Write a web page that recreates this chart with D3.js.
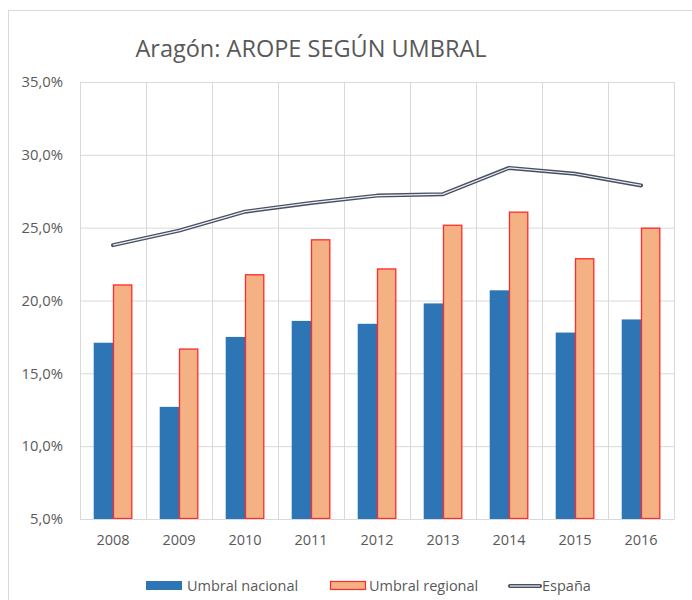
<!DOCTYPE html>
<html>
<head>
<meta charset="utf-8">
<script src="https://cdn.jsdelivr.net/npm/d3@7"></script>
<style>
  body { margin: 0; background: #fff; }
  text { font-family: "Open Sans", "Noto Sans", sans-serif; }
</style>
</head>
<body>
<svg id="chart"></svg>
<script>
const years = ["2008", "2009", "2010", "2011", "2012", "2013", "2014", "2015", "2016"];
const umbralNacional = [17.1, 12.7, 17.5, 18.6, 18.4, 19.8, 20.7, 17.8, 18.7];
const umbralRegional = [21.1, 16.7, 21.8, 24.2, 22.2, 25.2, 26.1, 22.9, 25.0];
const espana = [23.8, 24.8, 26.1, 26.7, 27.2, 27.3, 29.1, 28.7, 27.9];
const yTicks = [5, 10, 15, 20, 25, 30, 35];

const width = 692, height = 600;
const plotLeft = 80, plotRight = 674, plotTop = 82, plotBottom = 519;

const svg = d3.select("#chart")
	.attr("width", width)
	.attr("height", height);

// outer frame
svg.append("rect")
	.attr("x", 8.5).attr("y", 10.5)
	.attr("width", 700).attr("height", 600)
	.attr("fill", "#fff")
	.attr("stroke", "#d9d9d9");

const x = d3.scaleBand(years, [plotLeft, plotRight]).paddingInner(0).paddingOuter(0);
const xz = d3.scaleBand([0, 1], [0, x.bandwidth()]).paddingOuter(0.71).paddingInner(0);
const y = d3.scaleLinear([5, 35], [plotBottom, plotTop]);

// horizontal grid + y labels
const yAxis = d3.axisLeft(y).tickValues(yTicks).tickSize(0).tickPadding(17)
	.tickFormat(d => d3.format(".1f")(d).replace(".", ",") + "%");
svg.append("g")
	.attr("transform", `translate(${plotLeft}, 0)`)
	.call(yAxis)
	.call(g => g.select(".domain").remove())
	.call(g => g.selectAll(".tick line").clone()
		.attr("x2", plotRight - plotLeft)
		.attr("stroke", "#d9d9d9"))
	.call(g => g.selectAll(".tick text")
		.attr("fill", "#595959")
		.attr("font-size", 14.8));

// vertical grid
svg.append("g")
	.selectAll("line")
	.data(years.concat(["end"]))
	.join("line")
	.attr("x1", (d, i) => i < years.length ? x(d) + 0.5 : plotRight + 0.5)
	.attr("x2", (d, i) => i < years.length ? x(d) + 0.5 : plotRight + 0.5)
	.attr("y1", plotTop)
	.attr("y2", plotBottom)
	.attr("stroke", "#d9d9d9");

// bars
svg.append("g")
	.selectAll("rect")
	.data(years)
	.join("rect")
	.attr("x", (d) => x(d) + xz(0))
	.attr("y", (d, i) => y(umbralNacional[i]))
	.attr("width", xz.bandwidth())
	.attr("height", (d, i) => y(5) - y(umbralNacional[i]))
	.attr("fill", "#2e75b6");

svg.append("g")
	.selectAll("rect")
	.data(years)
	.join("rect")
	.attr("x", (d) => x(d) + xz(1) + 0.5)
	.attr("y", (d, i) => y(umbralRegional[i]) + 0.5)
	.attr("width", xz.bandwidth() - 1)
	.attr("height", (d, i) => y(5) - y(umbralRegional[i]) - 1)
	.attr("fill", "#f4b183")
	.attr("stroke", "#ff2a2a")
	.attr("stroke-width", 1.3);

// x axis
const xAxis = d3.axisBottom(x).tickSize(0).tickPadding(16);
svg.append("g")
	.attr("transform", `translate(0, ${plotBottom})`)
	.call(xAxis)
	.call(g => g.select(".domain").attr("stroke", "#d9d9d9"))
	.call(g => g.selectAll(".tick text")
		.attr("fill", "#595959")
		.attr("font-size", 14.5));

// España line (double line)
const line = d3.line()
	.x((d, i) => x(years[i]) + x.bandwidth() / 2)
	.y(d => y(d));
svg.append("path")
	.datum(espana)
	.attr("d", line)
	.attr("fill", "none")
	.attr("stroke", "#465063")
	.attr("stroke-width", 4)
	.attr("stroke-linecap", "round")
	.attr("stroke-linejoin", "round");
svg.append("path")
	.datum(espana)
	.attr("d", line)
	.attr("fill", "none")
	.attr("stroke", "#eef0f3")
	.attr("stroke-width", 1.2)
	.attr("stroke-linejoin", "round");

// title
svg.append("text")
	.attr("x", 311)
	.attr("y", 57)
	.attr("text-anchor", "middle")
	.attr("fill", "#595959")
	.attr("font-size", 23.5)
	.text("Aragón: AROPE SEGÚN UMBRAL");

// legend
const legend = svg.append("g").attr("transform", "translate(0, 586)");
legend.append("rect").attr("x", 146).attr("y", -5).attr("width", 36).attr("height", 9).attr("fill", "#2e75b6");
legend.append("text").attr("x", 187).attr("y", 5).attr("font-size", 14.5).attr("fill", "#595959").text("Umbral nacional");
legend.append("rect").attr("x", 330.5).attr("y", -4.5).attr("width", 35).attr("height", 8)
	.attr("fill", "#f4b183").attr("stroke", "#ff2a2a").attr("stroke-width", 1.2);
legend.append("text").attr("x", 369).attr("y", 5).attr("font-size", 14.5).attr("fill", "#595959").text("Umbral regional");
legend.append("line").attr("x1", 510).attr("x2", 540).attr("y1", 0).attr("y2", 0)
	.attr("stroke", "#465063").attr("stroke-width", 4).attr("stroke-linecap", "round");
legend.append("line").attr("x1", 510).attr("x2", 540).attr("y1", 0).attr("y2", 0)
	.attr("stroke", "#eef0f3").attr("stroke-width", 1.2);
legend.append("text").attr("x", 542).attr("y", 5).attr("font-size", 14.5).attr("fill", "#595959").text("España");
</script>
</body>
</html>
